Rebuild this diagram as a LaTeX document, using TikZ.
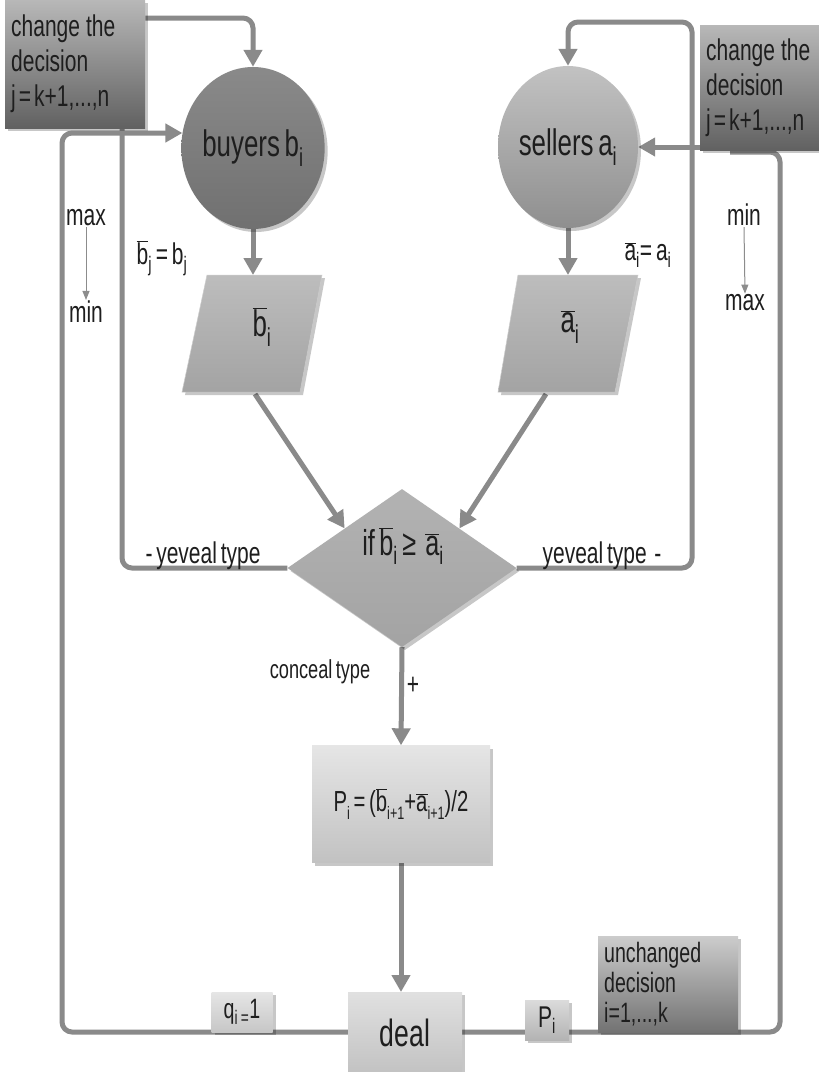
\documentclass[tikz,border=0pt]{standalone}
\usepackage{fontspec}
\setmainfont{Liberation Sans}[FakeStretch=0.7,WordSpace=0.65]
\usetikzlibrary{shapes.geometric,arrows.meta,shadows}
\definecolor{lg}{HTML}{8A8A8A}
\definecolor{tx}{HTML}{1E1E1E}
\pgfdeclarelayer{back}
\pgfdeclarelayer{bg}
\pgfsetlayers{back,bg,main}
\newcommand{\ovl}[1]{\ensuremath{\overline{\mbox{#1}}}}
\newcommand{\smallsub}[1]{\raisebox{-0.28em}{\fontsize{18}{18}\selectfont #1}}
\begin{document}
\begin{tikzpicture}[x=1pt,y=-1pt,
  conn/.style={draw=lg, line width=5pt, rounded corners=10pt},
  arr/.style={conn, -{Triangle[length=17pt,width=18pt]}},
  thinarr/.style={draw=black!45, line width=1pt, -{Triangle[length=9pt,width=7pt]}},
  sh/.style={drop shadow={shadow xshift=3pt,shadow yshift=-3pt,opacity=0.22,fill=black}},
  chbox/.style={sh, top color=black!28, bottom color=black!62, draw=none, align=left,
     inner sep=6pt, font=\fontsize{30}{35}\selectfont, text=tx},
  lbl/.style={font=\fontsize{30}{32}\selectfont, text=tx, inner sep=1pt},
  big/.style={font=\fontsize{37}{40}\selectfont, text=tx},
  ellnode/.style={ellipse, sh, draw=none, minimum width=140pt, minimum height=162pt, inner sep=0pt},
  boxnode/.style={sh, draw=none, inner sep=0pt},
  paral/.style={sh, top color=black!26, bottom color=black!36, draw=black!20, line width=0.5pt}
]
\useasboundingbox (0,0) rectangle (819,1072);
\begin{pgfonlayer}{back}
\fill[white] (0,0) rectangle (819,1072);
\end{pgfonlayer}

% ---------- nodes ----------
\node[chbox, anchor=north west, minimum width=140pt, minimum height=128pt, text width=128pt] (chL) at (5,0)
  {change{\kern6pt}the\\decision\\j{\kern3pt}={\kern3pt}k+1,...,n};
\node[chbox, anchor=north west, minimum width=125pt, minimum height=125pt, text width=113pt] (chR) at (700,25)
  {change{\kern6pt}the\\decision\\j{\kern3pt}={\kern3pt}k+1,...,n};

\node[ellnode, top color=black!46, bottom color=black!56, big] (buy) at (253,148) {buyers b\textsubscript{i}};
\node[ellnode, top color=black!24, bottom color=black!44, big] (sel) at (568,147) {sellers a\textsubscript{i}};

% parallelograms
\path[paral] (207,275) -- (322,275) -- (300,392) -- (182,392) -- cycle;
\path[paral] (518,275) -- (638,275) -- (615,392) -- (498,392) -- cycle;
\node[big] (pb) at (262,327) {\ovl{b}\textsubscript{i}};
\node[big] (pa) at (570,327) {\ovl{a}\textsubscript{i}};
\coordinate (pbT) at (253,275);
\coordinate (paT) at (568,275);
\coordinate (pbB) at (255,394);
\coordinate (paB) at (546,394);

% diamond
\node[diamond, sh, top color=black!30, bottom color=black!36, draw=none,
      minimum width=229pt, minimum height=158pt, inner sep=0pt] (dia) at (402,568) {};
\node[font=\fontsize{36}{38}\selectfont, text=tx] (diat) at (403,546)
  {if \ovl{b}\textsubscript{i} ≥\ \ \ovl{a}\textsubscript{i}};

% formula box
\node[boxnode, top color=black!10, bottom color=black!24, minimum width=178pt, minimum height=117pt,
      font=\fontsize{29}{32}\selectfont, text=tx] (P) at (401,804)
  {P\smallsub{i} = (\ovl{b}\smallsub{i+1}+\ovl{a}\smallsub{i+1})/2};

% deal box
\node[boxnode, top color=black!12, bottom color=black!24, minimum width=114pt, minimum height=82pt,
      anchor=north, font=\fontsize{38}{40}\selectfont, text=tx] (deal) at (405,992) {deal};

% small boxes on the bottom line
\node[boxnode, top color=black!10, bottom color=black!22, minimum width=61pt, minimum height=40pt,
      font=\fontsize{28}{30}\selectfont, text=tx] (q) at (242,1012) {q\textsubscript{i\,=}1};
\node[boxnode, top color=black!14, bottom color=black!30, minimum width=44pt, minimum height=40pt,
      font=\fontsize{30}{32}\selectfont, text=tx] (pi) at (547,1020) {P\textsubscript{i}};
\node[chbox, anchor=north west, minimum width=140pt, minimum height=84pt, text width=128pt,
      font=\fontsize{28}{30}\selectfont, top color=black!20, bottom color=black!55] (unc) at (598,936)
  {unchanged\\decision\\i=1,...,k};

% text labels
\node[lbl] (bj) at (162,258) {\ovl{b}\textsubscript{j} = b\textsubscript{j}};
\node[lbl] (aj) at (648,255) {\ovl{a}\textsubscript{i}= a\textsubscript{i}};
\node[lbl] (maxL) at (86,218) {max};
\node[lbl] (minL) at (86,312) {min};
\node[lbl] (minR) at (744,215) {min};
\node[lbl] (maxR) at (745,303) {max};
\node[lbl] (yl) at (203,556) {- yeveal type};
\node[lbl] (yr) at (602,556) {yeveal type\ \ -};
\node[lbl, font=\fontsize{26}{28}\selectfont] (conc) at (320,672) {conceal type};
\node[lbl] (plus) at (413,686) {+};

% ---------- connectors ----------
\begin{pgfonlayer}{bg}
\draw[arr] (chL.east |- 0,18) -| (buy.north);
\draw[arr] (deal.west |- 0,1032) -- (62,1032) -- (62,133) -- (buy.168 |- 62,133);
\draw[conn] (dia.west) -- (122,568) -- (chL.south -| 122,0);
\draw[arr] (dia.east) -- (692,568) -- (692,22) -| (sel.north);
\draw[arr] (chR.west |- sel.east) -- (sel.east);
\draw[conn] (deal.east |- 0,1032) -- (780,1032) -- (780,152) -- (730,152);
\draw[arr] (buy.south) -- (pbT);
\draw[arr] (sel.south) -- (paT);
\draw[arr] (pbB) -- (dia.north west);
\draw[arr] (paB) -- (dia.north east);
\draw[arr] (dia.south) -- (P.north);
\draw[arr] (P.south) -- (P.south |- deal.north);
\end{pgfonlayer}

\draw[thinarr] (maxL.south) -- (minL.north);
\draw[thinarr] (minR.south) -- (maxR.north);
\end{tikzpicture}
\end{document}
